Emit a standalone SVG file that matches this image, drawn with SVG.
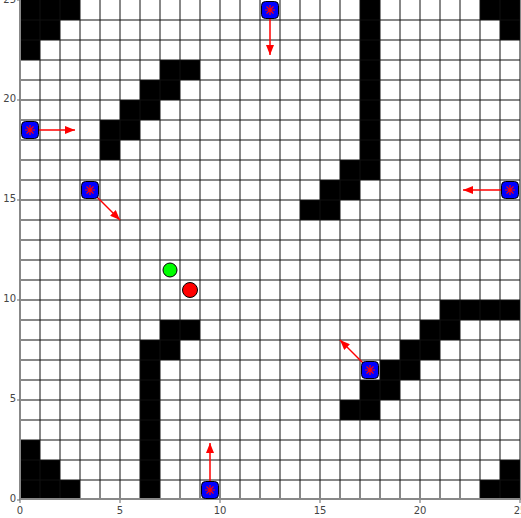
<svg xmlns="http://www.w3.org/2000/svg" width="521" height="518" viewBox="0 0 521 518">
<style>
.wall{fill:#000}
.grid line{stroke:#111;stroke-width:1}
.axis{stroke:#888;stroke-width:2}
.tick{stroke:#666;stroke-width:1}
.lbl{font-family:"DejaVu Sans",sans-serif;font-size:10px;fill:#444}
.arrow{stroke:#ff0000;stroke-width:1.5;fill:none;marker-end:url(#ah)}
</style>
<defs>
<marker id="ah" markerUnits="userSpaceOnUse" markerWidth="10" markerHeight="8" refX="10" refY="4" orient="auto">
<path d="M0,0 L10,4 L0,8 z" fill="#ff0000"/>
</marker>
<g id="bot">
<rect x="-8.5" y="-8.5" width="17" height="17" rx="4" ry="4" fill="#0000ff" stroke="#000" stroke-width="1"/>
<path d="M-5,0H5M0,-5V5M-3.5,-3.5L3.5,3.5M-3.5,3.5L3.5,-3.5" stroke="#ff0000" stroke-width="1.2" fill="none"/>
</g>
</defs>
<rect width="521" height="518" fill="#fff"/>
<g id="walls" class="wall">
<rect x="20" y="0" width="60" height="20"/>
<rect x="20" y="20" width="40" height="20"/>
<rect x="20" y="40" width="20" height="20"/>
<rect x="20" y="440" width="20" height="20"/>
<rect x="20" y="460" width="40" height="20"/>
<rect x="20" y="480" width="60" height="20"/>
<rect x="480" y="0" width="40" height="20"/>
<rect x="500" y="20" width="20" height="20"/>
<rect x="500" y="460" width="20" height="20"/>
<rect x="480" y="480" width="40" height="20"/>
<rect x="360" y="0" width="20" height="180"/>
<rect x="340" y="160" width="20" height="20"/>
<rect x="320" y="180" width="40" height="20"/>
<rect x="300" y="200" width="40" height="20"/>
<rect x="160" y="60" width="40" height="20"/>
<rect x="140" y="80" width="40" height="20"/>
<rect x="120" y="100" width="40" height="20"/>
<rect x="100" y="120" width="40" height="20"/>
<rect x="100" y="140" width="20" height="20"/>
<rect x="160" y="320" width="40" height="20"/>
<rect x="140" y="340" width="40" height="20"/>
<rect x="140" y="360" width="20" height="140"/>
<rect x="440" y="300" width="80" height="20"/>
<rect x="420" y="320" width="40" height="20"/>
<rect x="400" y="340" width="40" height="20"/>
<rect x="380" y="360" width="40" height="20"/>
<rect x="360" y="380" width="40" height="20"/>
<rect x="340" y="400" width="40" height="20"/>
</g>
<g id="grid" class="grid">
<line x1="40" y1="0" x2="40" y2="500"/><line x1="60" y1="0" x2="60" y2="500"/><line x1="80" y1="0" x2="80" y2="500"/><line x1="100" y1="0" x2="100" y2="500"/><line x1="120" y1="0" x2="120" y2="500"/><line x1="140" y1="0" x2="140" y2="500"/><line x1="160" y1="0" x2="160" y2="500"/><line x1="180" y1="0" x2="180" y2="500"/><line x1="200" y1="0" x2="200" y2="500"/><line x1="220" y1="0" x2="220" y2="500"/><line x1="240" y1="0" x2="240" y2="500"/><line x1="260" y1="0" x2="260" y2="500"/><line x1="280" y1="0" x2="280" y2="500"/><line x1="300" y1="0" x2="300" y2="500"/><line x1="320" y1="0" x2="320" y2="500"/><line x1="340" y1="0" x2="340" y2="500"/><line x1="360" y1="0" x2="360" y2="500"/><line x1="380" y1="0" x2="380" y2="500"/><line x1="400" y1="0" x2="400" y2="500"/><line x1="420" y1="0" x2="420" y2="500"/><line x1="440" y1="0" x2="440" y2="500"/><line x1="460" y1="0" x2="460" y2="500"/><line x1="480" y1="0" x2="480" y2="500"/><line x1="500" y1="0" x2="500" y2="500"/><line x1="520" y1="0" x2="520" y2="500"/>
<line x1="20" y1="20" x2="520" y2="20"/><line x1="20" y1="40" x2="520" y2="40"/><line x1="20" y1="60" x2="520" y2="60"/><line x1="20" y1="80" x2="520" y2="80"/><line x1="20" y1="100" x2="520" y2="100"/><line x1="20" y1="120" x2="520" y2="120"/><line x1="20" y1="140" x2="520" y2="140"/><line x1="20" y1="160" x2="520" y2="160"/><line x1="20" y1="180" x2="520" y2="180"/><line x1="20" y1="200" x2="520" y2="200"/><line x1="20" y1="220" x2="520" y2="220"/><line x1="20" y1="240" x2="520" y2="240"/><line x1="20" y1="260" x2="520" y2="260"/><line x1="20" y1="280" x2="520" y2="280"/><line x1="20" y1="300" x2="520" y2="300"/><line x1="20" y1="320" x2="520" y2="320"/><line x1="20" y1="340" x2="520" y2="340"/><line x1="20" y1="360" x2="520" y2="360"/><line x1="20" y1="380" x2="520" y2="380"/><line x1="20" y1="400" x2="520" y2="400"/><line x1="20" y1="420" x2="520" y2="420"/><line x1="20" y1="440" x2="520" y2="440"/><line x1="20" y1="460" x2="520" y2="460"/><line x1="20" y1="480" x2="520" y2="480"/>
</g>
<g id="axes">
<line class="axis" x1="20" y1="0" x2="20" y2="500"/>
<line class="axis" x1="20" y1="499" x2="520" y2="499"/>
<g class="tick">
<line x1="20" y1="500" x2="20" y2="503"/><line x1="120" y1="500" x2="120" y2="503"/><line x1="220" y1="500" x2="220" y2="503"/><line x1="320" y1="500" x2="320" y2="503"/><line x1="420" y1="500" x2="420" y2="503"/><line x1="520" y1="500" x2="520" y2="503"/>
<line x1="17" y1="500" x2="20" y2="500"/><line x1="17" y1="400" x2="20" y2="400"/><line x1="17" y1="300" x2="20" y2="300"/><line x1="17" y1="200" x2="20" y2="200"/><line x1="17" y1="100" x2="20" y2="100"/><line x1="17" y1="0" x2="20" y2="0"/>
</g>
<g class="lbl" text-anchor="end">
<text x="16" y="502">0</text><text x="16" y="402">5</text><text x="16" y="302">10</text><text x="16" y="202">15</text><text x="16" y="102">20</text><text x="16" y="3">25</text>
</g>
<g class="lbl" text-anchor="middle">
<text x="20" y="514">0</text><text x="120" y="514">5</text><text x="220" y="514">10</text><text x="320" y="514">15</text><text x="420" y="514">20</text><text x="520" y="514">25</text>
</g>
</g>
<g id="connectors">
<line class="arrow" x1="270" y1="10" x2="270" y2="55"/>
<line class="arrow" x1="30" y1="130" x2="75" y2="130"/>
<line class="arrow" x1="90" y1="190" x2="120" y2="220"/>
<line class="arrow" x1="510" y1="190" x2="463" y2="190"/>
<line class="arrow" x1="370" y1="370" x2="340" y2="340"/>
<line class="arrow" x1="210" y1="490" x2="210" y2="443"/>
</g>
<g id="robot1"><use href="#bot" x="270" y="10"/></g>
<g id="robot2"><use href="#bot" x="30" y="130"/></g>
<g id="robot3"><use href="#bot" x="90" y="190"/></g>
<g id="robot4"><use href="#bot" x="510" y="190"/></g>
<g id="robot5"><use href="#bot" x="370" y="370"/></g>
<g id="robot6"><use href="#bot" x="210" y="490"/></g>
<g id="start"><circle cx="170" cy="270" r="7" fill="#00ff00" stroke="#000" stroke-width="1"/></g>
<g id="goal"><circle cx="190" cy="290" r="7.5" fill="#ff0000" stroke="#000" stroke-width="1"/></g>
</svg>
